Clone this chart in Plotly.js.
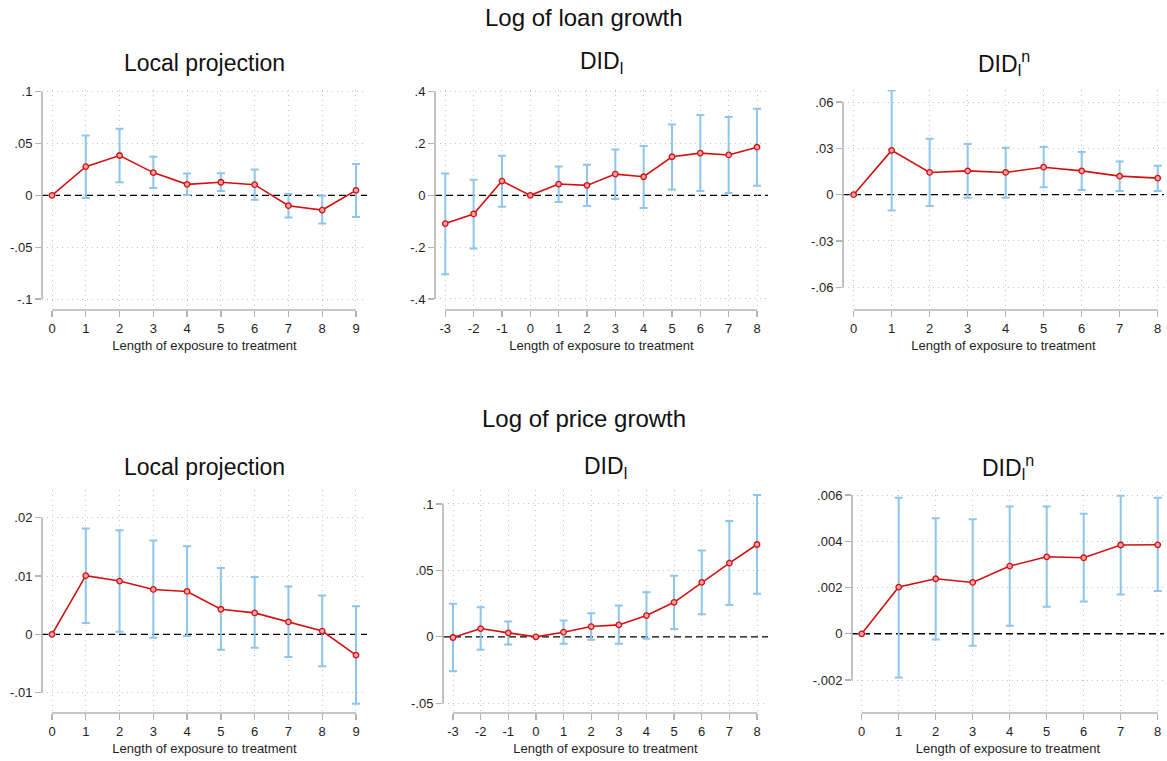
<!DOCTYPE html>
<html>
<head>
<meta charset="utf-8">
<script src="https://cdn.plot.ly/plotly-3.0.1.min.js"></script>
<style>html,body{margin:0;padding:0;background:#fff;}#chart{width:1167px;height:761px;}</style>
</head>
<body>
<div id="chart"></div>
<script>
// ---- Horizons (x categories) ----
const horizonsLP   = [0, 1, 2, 3, 4, 5, 6, 7, 8, 9];
const horizonsDID  = [-3, -2, -1, 0, 1, 2, 3, 4, 5, 6, 7, 8];
const horizonsDIDn = [0, 1, 2, 3, 4, 5, 6, 7, 8];

// ---- Log of loan growth ----
const loanLP_coef = [0, 0.0277, 0.0384, 0.0219, 0.0106, 0.0126, 0.0103, -0.0100, -0.0142, 0.0048];
const loanLP_lo   = [0, -0.0026, 0.0126, 0.0071, 0.0003, 0.0042, -0.0042, -0.0213, -0.0271, -0.0210];
const loanLP_hi   = [0, 0.0577, 0.0642, 0.0371, 0.0210, 0.0213, 0.0248, 0.0013, -0.0003, 0.0303];

const loanDID_coef = [-0.109, -0.0718, 0.055, 0, 0.0436, 0.0385, 0.082, 0.0718, 0.149, 0.163, 0.156, 0.186];
const loanDID_lo   = [-0.305, -0.205, -0.0436, 0, -0.0256, -0.041, -0.014, -0.0487, 0.023, 0.0167, 0.009, 0.037];
const loanDID_hi   = [0.0846, 0.060, 0.1526, 0, 0.1115, 0.118, 0.177, 0.190, 0.273, 0.310, 0.3026, 0.3346];

const loanDIDn_coef = [0, 0.0287, 0.0144, 0.0154, 0.0144, 0.0178, 0.0154, 0.0120, 0.0107];
const loanDIDn_lo   = [0, -0.0102, -0.0074, -0.0020, -0.0020, 0.0048, 0.0030, 0.0024, 0.0024];
const loanDIDn_hi   = [0, 0.0674, 0.0363, 0.0328, 0.0304, 0.0309, 0.0276, 0.0215, 0.0187];

// ---- Log of price growth ----
const priceLP_coef = [0, 0.01006, 0.00914, 0.0077, 0.00736, 0.00431, 0.00368, 0.00213, 0.00057, -0.00356];
const priceLP_lo   = [0, 0.00195, 0.00046, -0.00057, -0.00029, -0.00264, -0.0023, -0.0039, -0.00546, -0.0119];
const priceLP_hi   = [0, 0.01816, 0.01787, 0.0161, 0.0151, 0.01138, 0.00983, 0.00822, 0.00667, 0.00483];

const priceDID_coef = [-0.0005, 0.00625, 0.003, 0, 0.0035, 0.00775, 0.009, 0.016, 0.026, 0.041, 0.0555, 0.0695];
const priceDID_lo   = [-0.0258, -0.00975, -0.00575, 0, -0.00525, -0.00225, -0.00525, -0.0015, 0.006, 0.017, 0.024, 0.0325];
const priceDID_hi   = [0.025, 0.0223, 0.0115, 0, 0.01225, 0.01775, 0.0235, 0.0335, 0.046, 0.065, 0.08725, 0.10675];

const priceDIDn_coef = [0, 0.00202, 0.00238, 0.00222, 0.00293, 0.00333, 0.00329, 0.00384, 0.00385];
const priceDIDn_lo   = [0, -0.00189, -0.00025, -0.00052, 0.00035, 0.00117, 0.0014, 0.0017, 0.00185];
const priceDIDn_hi   = [0, 0.00588, 0.0050, 0.00496, 0.00551, 0.00551, 0.00519, 0.00597, 0.00588];

// ---- Tick values / labels ----
const yTicks1 = [-0.1, -0.05, 0, 0.05, 0.1];        const yText1 = ['-.1', '-.05', '0', '.05', '.1'];
const yTicks2 = [-0.4, -0.2, 0, 0.2, 0.4];          const yText2 = ['-.4', '-.2', '0', '.2', '.4'];
const yTicks3 = [-0.06, -0.03, 0, 0.03, 0.06];      const yText3 = ['-.06', '-.03', '0', '.03', '.06'];
const yTicks4 = [-0.01, 0, 0.01, 0.02];             const yText4 = ['-.01', '0', '.01', '.02'];
const yTicks5 = [-0.05, 0, 0.05, 0.1];              const yText5 = ['-.05', '0', '.05', '.1'];
const yTicks6 = [-0.002, 0, 0.002, 0.004, 0.006];   const yText6 = ['-.002', '0', '.002', '.004', '.006'];

// ---- Titles ----
const rowTitles = ['Log of loan growth', 'Log of price growth'];
const panelTitles = ['Local projection', 'DID<sub>l</sub>', 'DID<sub>l</sub><sup>n</sup>',
                     'Local projection', 'DID<sub>l</sub>', 'DID<sub>l</sub><sup>n</sup>'];
const xTitle = 'Length of exposure to treatment';

// ---- Layout geometry (pixels) ----
const W = 1167, H = 761;
const FONT = 'Liberation Sans, Arial, Helvetica, sans-serif';
const RED = '#d40f0f', BLUE = '#8fc4ec', AXIS = '#b3b3b3', GRID = '#c4c4c4';

const panels = [
  {x: horizonsLP,   c: loanLP_coef,   lo: loanLP_lo,   hi: loanLP_hi,   yt: yTicks1, ytt: yText1, px: [42, 367],  py: [90, 310],  xr: [-0.296, 9.326], yr: [-0.1106, 0.1016]},
  {x: horizonsDID,  c: loanDID_coef,  lo: loanDID_lo,  hi: loanDID_hi,  yt: yTicks2, ytt: yText2, px: [435, 768], py: [90, 310],  xr: [-3.363, 8.388], yr: [-0.4425, 0.4066]},
  {x: horizonsDIDn, c: loanDIDn_coef, lo: loanDIDn_lo, hi: loanDIDn_hi, yt: yTicks3, ytt: yText3, px: [843, 1164], py: [90, 310], xr: [-0.28, 8.166], yr: [-0.0747, 0.0678]},
  {x: horizonsLP,   c: priceLP_coef,  lo: priceLP_lo,  hi: priceLP_hi,  yt: yTicks4, ytt: yText4, px: [42, 367],  py: [490, 713], xr: [-0.296, 9.326], yr: [-0.01348, 0.02475]},
  {x: horizonsDID,  c: priceDID_coef, lo: priceDID_lo, hi: priceDID_hi, yt: yTicks5, ytt: yText5, px: [443, 768], py: [490, 713], xr: [-3.362, 8.398], yr: [-0.0573, 0.1105]},
  {x: horizonsDIDn, c: priceDIDn_coef,lo: priceDIDn_lo,hi: priceDIDn_hi,yt: yTicks6, ytt: yText6, px: [852, 1164], py: [490, 713], xr: [-0.262, 8.170], yr: [-0.003427, 0.00622]}
];

const traces = [];
const layout = {
  width: W, height: H,
  margin: {l: 0, r: 0, t: 0, b: 0},
  paper_bgcolor: '#fff', plot_bgcolor: '#fff',
  showlegend: false,
  font: {family: FONT, size: 13, color: '#1e1e1e'},
  shapes: [], annotations: []
};

panels.forEach((p, i) => {
  const n = i + 1;
  const xa = 'x' + (n === 1 ? '' : n), ya = 'y' + (n === 1 ? '' : n);
  const xk = 'xaxis' + (n === 1 ? '' : n), yk = 'yaxis' + (n === 1 ? '' : n);
  traces.push({
    type: 'scatter', mode: 'lines+markers', xaxis: xa, yaxis: ya,
    x: p.x, y: p.c,
    line: {color: RED, width: 1.6},
    marker: {symbol: 'circle', size: 5.5, color: '#f3a3a3', line: {color: RED, width: 1.3}},
    error_y: {type: 'data', symmetric: false,
              array: p.hi.map((h, k) => h - p.c[k]),
              arrayminus: p.lo.map((l, k) => p.c[k] - l),
              color: BLUE, thickness: 2, width: 4},
    hoverinfo: 'x+y'
  });
  layout[xk] = {
    domain: [p.px[0] / W, p.px[1] / W], anchor: ya, range: p.xr,
    tickmode: 'array', tickvals: p.x, ticktext: p.x.map(String),
    ticks: 'outside', ticklen: 6, tickwidth: 1.3, tickcolor: AXIS,
    showline: false, zeroline: false,
    showgrid: true, gridcolor: GRID, griddash: '1px,4px', gridwidth: 1,
    tickfont: {size: 13, color: '#1e1e1e'},
    title: {text: xTitle, font: {size: 13, color: '#1e1e1e'}, standoff: 6},
    fixedrange: true
  };
  layout[yk] = {
    domain: [1 - p.py[1] / H, 1 - p.py[0] / H], anchor: xa, range: p.yr,
    tickmode: 'array', tickvals: p.yt, ticktext: p.ytt,
    ticks: 'outside', ticklen: 6, tickwidth: 1.3, tickcolor: AXIS,
    showline: false, zeroline: false,
    showgrid: false,
    minor: {tickmode: 'array', tickvals: p.yt.filter(v => v !== 0), ticks: '',
            showgrid: true, gridcolor: GRID, griddash: '1px,4px', gridwidth: 1},
    tickfont: {size: 13, color: '#1e1e1e'},
    fixedrange: true
  };
  // axis lines spanning tick range (Stata style)
  layout.shapes.push({type: 'line', layer: 'above', xref: xa + ' domain', yref: ya,
    x0: 0, x1: 0, y0: Math.min(...p.yt), y1: Math.max(...p.yt),
    line: {color: AXIS, width: 1.6}});
  layout.shapes.push({type: 'line', layer: 'above', xref: xa, yref: ya + ' domain',
    x0: Math.min(...p.x), x1: Math.max(...p.x), y0: 0, y1: 0,
    line: {color: AXIS, width: 1.6}});
  // dashed reference line at zero
  layout.shapes.push({type: 'line', layer: 'below', xref: xa + ' domain', yref: ya,
    x0: 0, x1: 1, y0: 0, y1: 0,
    line: {color: '#000', width: 1.4, dash: '7px,4px'}});
  // panel title
  const titleY = i < 3 ? 63 : 467;
  layout.annotations.push({text: panelTitles[i], xref: xa + ' domain', yref: 'paper',
    x: 0.5, y: 1 - titleY / H, xanchor: 'center', yanchor: 'middle', showarrow: false,
    font: {size: 23, color: '#111'}});
});

// row titles
[17, 419].forEach((py, r) => {
  layout.annotations.push({text: rowTitles[r], xref: 'paper', yref: 'paper',
    x: 0.5, y: 1 - py / H, xanchor: 'center', yanchor: 'middle', showarrow: false,
    font: {size: 24, color: '#111'}});
});

Plotly.newPlot('chart', traces, layout, {displayModeBar: false, staticPlot: true});
</script>
</body>
</html>
